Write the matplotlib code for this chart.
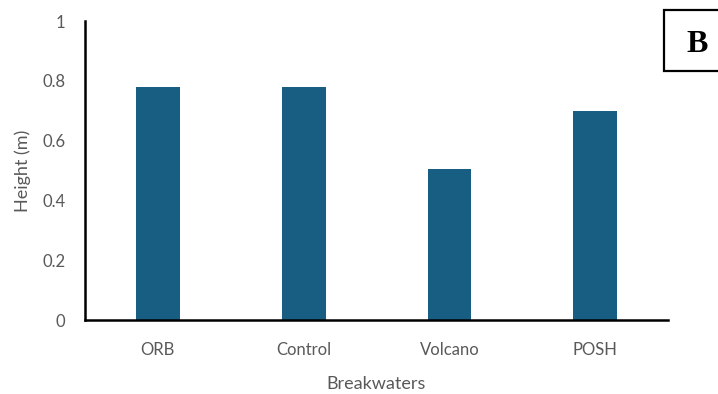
import matplotlib
matplotlib.use("Agg")
import matplotlib.pyplot as plt
from matplotlib.patches import Rectangle

categories = ["ORB", "Control", "Volcano", "POSH"]
heights = [0.78, 0.78, 0.505, 0.70]
y_ticks = [0, 0.2, 0.4, 0.6, 0.8, 1]
y_tick_labels = ["0", "0.2", "0.4", "0.6", "0.8", "1"]

bar_color = "#175E82"
text_gray = "#595959"
plt.rcParams["font.family"] = ["Lato", "DejaVu Sans"]

W, H = 718, 394
fig = plt.figure(figsize=(W / 100, H / 100), dpi=100)
ax = fig.add_axes([0.1184, 0.1878, 0.8120, 0.7589])

x = range(len(categories))
ax.bar(x, heights, width=0.3, color=bar_color, zorder=2)

ax.set_xlim(-0.5, len(categories) - 0.5)
ax.set_ylim(0, 1)
ax.set_yticks(y_ticks)
ax.set_yticklabels(y_tick_labels)
ax.set_xticks(list(x))
ax.set_xticklabels(categories)
ax.tick_params(axis="both", length=0, colors=text_gray, labelsize=12)
ax.tick_params(axis="x", pad=16)
ax.tick_params(axis="y", pad=14)

for side in ("top", "right"):
    ax.spines[side].set_visible(False)
for side in ("left", "bottom"):
    ax.spines[side].set_color("black")
    ax.spines[side].set_linewidth(1.8)

ax.set_xlabel("Breakwaters", color=text_gray, fontsize=13, labelpad=13)
ax.set_ylabel("Height (m)", color=text_gray, fontsize=13, labelpad=8)

# Panel letter in a boxed label at the top right (box runs off the edge)
box_x0, box_y0, box_x1, box_y1 = 664, 10, 722, 71
fig.patches.append(Rectangle((box_x0 / W, 1 - box_y1 / H),
                             (box_x1 - box_x0) / W, (box_y1 - box_y0) / H,
                             transform=fig.transFigure, facecolor="white",
                             edgecolor="black", linewidth=1.6, zorder=5))
fig.text(697 / W, 1 - 44 / H, "B", fontsize=23, fontweight="bold",
         family="Liberation Serif", ha="center", va="center", zorder=6)

fig.savefig("out.png", dpi=100)
